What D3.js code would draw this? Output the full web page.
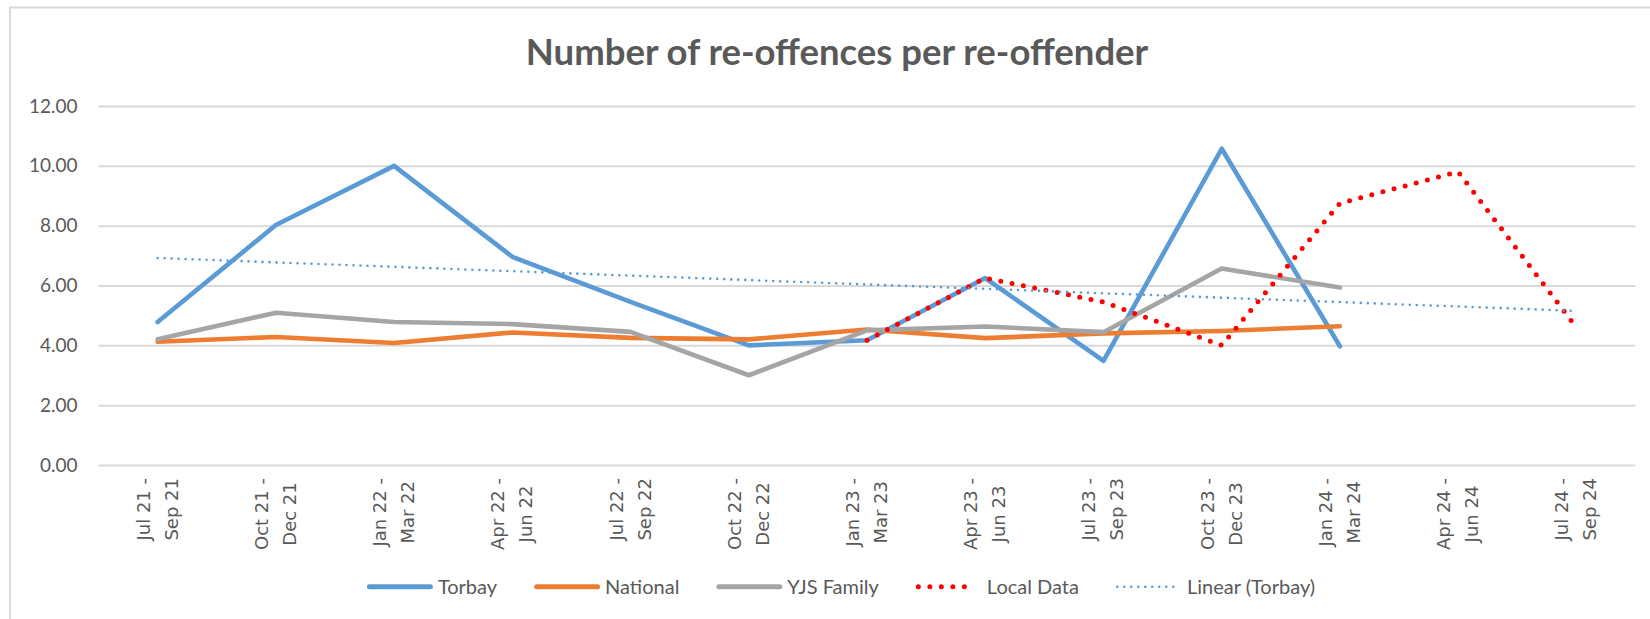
<!DOCTYPE html>
<html>
<head>
<meta charset="utf-8">
<script src="https://cdn.jsdelivr.net/npm/d3@7"></script>
<style>
  body { margin: 0; background: #fff; }
  svg { display: block; }
</style>
</head>
<body>
<div id="chart-area"></div>
<script>
// data
var categories = ["Jul 21 - Sep 21", "Oct 21 - Dec 21", "Jan 22 - Mar 22", "Apr 22 - Jun 22",
    "Jul 22 - Sep 22", "Oct 22 - Dec 22", "Jan 23 - Mar 23", "Apr 23 - Jun 23",
    "Jul 23 - Sep 23", "Oct 23 - Dec 23", "Jan 24 - Mar 24", "Apr 24 - Jun 24", "Jul 24 - Sep 24"];
var torbay = [4.78, 8.02, 10.0, 6.96, 5.45, 4.0, 4.17, 6.25, 3.48, 10.57, 3.97];
var national = [4.12, 4.28, 4.08, 4.43, 4.25, 4.2, 4.53, 4.24, 4.4, 4.48, 4.64];
var yjsFamily = [4.2, 5.09, 4.78, 4.71, 4.45, 3.0, 4.5, 4.63, 4.44, 6.57, 5.93];
var localData = [null, null, null, null, null, null, 4.17, 6.25, 5.45, 4.0, 8.75, 9.8, 4.6];
var torbayTrend = [6.92, null, null, null, null, null, null, null, null, null, null, null, 5.15];
var yTicks = [0, 2, 4, 6, 8, 10, 12];

var width = 1650, height = 619;
var plot = { left: 98.5, right: 1635.5, top: 106, bottom: 465 };
var textColor = "#595959";
var bodyFont = "Lato, 'Open Sans', sans-serif";

var svg = d3.select("#chart-area")
    .append("svg")
    .attr("width", width)
    .attr("height", height);

// chart frame (runs off the right/bottom edge in the original)
svg.append("rect")
    .attr("x", 10)
    .attr("y", 7.5)
    .attr("width", 1700)
    .attr("height", 700)
    .attr("fill", "none")
    .attr("stroke", "#d9d9d9")
    .attr("stroke-width", 2);

var x = d3.scaleBand()
    .domain(categories)
    .range([plot.left, plot.right]);
var cx = i => x(categories[i]) + x.bandwidth() / 2;

var y = d3.scaleLinear()
    .domain([0, 12])
    .range([plot.bottom, plot.top]);

// title
svg.append("text")
    .attr("x", 837)
    .attr("y", 65)
    .attr("text-anchor", "middle")
    .attr("font-family", bodyFont)
    .attr("font-weight", "bold")
    .attr("font-size", 36.5)
    .attr("fill", textColor)
    .text("Number of re-offences per re-offender");

// y axis + gridlines
var yAxis = d3.axisLeft(y)
    .tickValues(yTicks)
    .tickFormat(d3.format(".2f"))
    .tickSize(-(plot.right - plot.left))
    .tickPadding(21);

var yG = svg.append("g")
    .attr("transform", "translate(" + plot.left + ", 0)")
    .call(yAxis);
yG.select(".domain").remove();
yG.selectAll("line")
    .attr("stroke", "#d9d9d9")
    .attr("stroke-width", 2);
yG.selectAll("text")
    .attr("font-family", bodyFont)
    .attr("font-size", 19)
    .attr("fill", textColor);

// x labels: two rotated lines per category, block starts just below the axis
categories.forEach((c, i) => {
    var parts = c.split(" - ");
    var lines = [parts[0] + " -", parts[1]];
    var g = svg.append("g")
        .attr("transform", "translate(" + cx(i) + ", 0) rotate(-90)");
    var texts = lines.map((t, j) => g.append("text")
        .attr("y", j === 0 ? -8 : 20)
        .attr("text-anchor", "middle")
        .attr("font-family", "'DejaVu Sans', Verdana, sans-serif")
        .attr("font-size", 18)
        .attr("fill", textColor)
        .text(t));
    var maxLen = d3.max(texts, t => t.node().getComputedTextLength());
    texts.forEach(t => t.attr("x", -(478 + maxLen / 2)));
});

var line = d3.line()
    .defined(d => d != null)
    .x((d, i) => cx(i))
    .y(d => y(d));

var series = [
    { name: "Torbay", values: torbay, color: "#5b9bd5", w: 4.6, dash: null },
    { name: "National", values: national, color: "#ed7d31", w: 4.6, dash: null },
    { name: "YJS Family", values: yjsFamily, color: "#a5a5a5", w: 4.6, dash: null },
    { name: "Local Data", values: localData, color: "#ff0000", w: 5, dash: "0 11.5" },
    { name: "Linear (Torbay)", values: torbayTrend, color: "#5b9bd5", w: 2.6, dash: "0 7" }
];

series.forEach(s => {
    var vals = s.values;
    var path = svg.append("path")
        .attr("fill", "none")
        .attr("stroke", s.color)
        .attr("stroke-width", s.w)
        .attr("stroke-linejoin", "round")
        .attr("stroke-linecap", "round");
    if (s.name === "Linear (Torbay)") {
        // trend line goes straight from first to last category
        var pts = vals.map((v, i) => [i, v]).filter(p => p[1] != null);
        path.attr("d", d3.line().x(p => cx(p[0])).y(p => y(p[1]))(pts));
    } else {
        path.attr("d", line(vals));
    }
    if (s.dash) path.attr("stroke-dasharray", s.dash);
});

// legend
var legend = svg.append("g");
var items = series.map(s => {
    var g = legend.append("g");
    var t = g.append("text")
        .attr("x", 71)
        .attr("y", 593.5)
        .attr("font-family", bodyFont)
        .attr("font-size", 20)
        .attr("fill", textColor)
        .text(s.name);
    var sample = g.append("line")
        .attr("y1", 586.7)
        .attr("y2", 586.7)
        .attr("stroke", s.color)
        .attr("stroke-width", s.dash ? s.w : 5)
        .attr("stroke-linecap", "round");
    if (s.name === "Local Data") {
        sample.attr("x1", 2.5).attr("x2", 60).attr("stroke-dasharray", s.dash);
    } else if (s.dash) {
        sample.attr("x1", 1.3).attr("x2", 57.5).attr("stroke-dasharray", s.dash);
    } else {
        sample.attr("x1", 2.5).attr("x2", 63.5);
    }
    return { g: g, w: 71 + t.node().getComputedTextLength() };
});
var gap = 37;
var total = d3.sum(items, d => d.w) + gap * (items.length - 1);
var pos = 841 - total / 2;
items.forEach(d => {
    d.g.attr("transform", "translate(" + pos + ", 0)");
    pos += d.w + gap;
});
</script>
</body>
</html>
